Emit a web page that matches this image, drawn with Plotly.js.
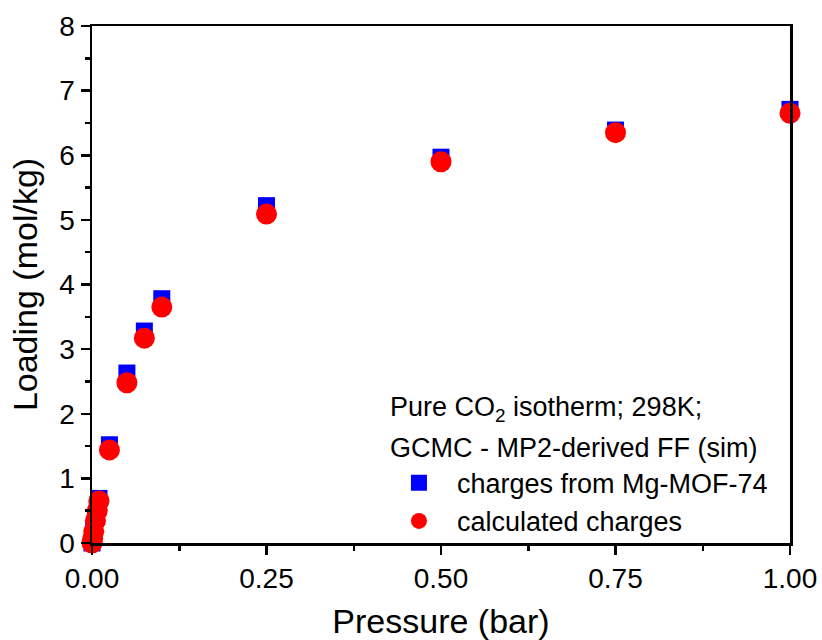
<!DOCTYPE html>
<html>
<head>
<meta charset="utf-8">
<script src="https://cdn.plot.ly/plotly-3.0.1.min.js"></script>
<style>html,body{margin:0;padding:0;background:#fff;} #chart{width:822px;height:640px;}</style>
</head>
<body>
<div id="chart"></div>
<script>
var pressure = [0, 0.001, 0.0025, 0.005, 0.0075, 0.01, 0.025, 0.05, 0.075, 0.1, 0.25, 0.5, 0.75, 1.0];
var loadingMgCharges = [0, 0.08, 0.2, 0.38, 0.54, 0.69, 1.52, 2.63, 3.28, 3.78, 5.22, 5.97, 6.39, 6.71];
var loadingCalcCharges = [0, 0.07, 0.18, 0.35, 0.5, 0.65, 1.44, 2.48, 3.17, 3.65, 5.09, 5.9, 6.35, 6.65];
var xTicks = [0, 0.25, 0.5, 0.75, 1.0];
var yTicks = [0, 1, 2, 3, 4, 5, 6, 7, 8];

var font = 'Liberation Sans, Arial, sans-serif';
var traces = [
  {x: pressure, y: loadingMgCharges, mode: 'markers', type: 'scatter', name: 'charges from Mg-MOF-74',
   marker: {symbol: 'square', size: 17, color: '#0000ff'}, cliponaxis: false},
  {x: pressure, y: loadingCalcCharges, mode: 'markers', type: 'scatter', name: 'calculated charges',
   marker: {symbol: 'circle', size: 21, color: '#ff0000'}, cliponaxis: false}
];
var axisCommon = {
  showgrid: false, zeroline: false, showline: true, linecolor: '#000', linewidth: 2.5,
  mirror: true, ticks: 'outside', ticklen: 9, tickwidth: 2.5, tickcolor: '#000',
  tickfont: {family: font, size: 28, color: '#000'}
};
var layout = {
  width: 822, height: 640,
  margin: {l: 92, r: 32, t: 26, b: 97},
  paper_bgcolor: '#fff', plot_bgcolor: '#fff',
  showlegend: true,
  legend: {x: 0.414, y: 0.163, xanchor: 'left', yanchor: 'top', bgcolor: 'rgba(0,0,0,0)',
           font: {family: font, size: 27, color: '#000'}, tracegroupgap: 0, itemwidth: 66},
  xaxis: Object.assign({}, axisCommon, {
    range: [0, 1.0], tickvals: xTicks, tickformat: '.2f',
    minor: {ticks: 'outside', ticklen: 5, tickwidth: 2.5, tickcolor: '#000', dtick: 0.125, tick0: 0},
    title: {text: 'Pressure (bar)', font: {family: font, size: 34, color: '#000'}, standoff: 19}
  }),
  yaxis: Object.assign({}, axisCommon, {
    range: [0, 8], tickvals: yTicks,
    minor: {ticks: 'outside', ticklen: 5, tickwidth: 2.5, tickcolor: '#000', dtick: 0.5, tick0: 0},
    title: {text: 'Loading (mol/kg)', font: {family: font, size: 34, color: '#000'}, standoff: 12}
  }),
  annotations: [
    {xref: 'paper', yref: 'paper', x: 0.4245, y: 0.26, xanchor: 'left', yanchor: 'middle', showarrow: false,
     text: 'Pure CO<sub>2</sub> isotherm; 298K;', font: {family: font, size: 27, color: '#000'}},
    {xref: 'paper', yref: 'paper', x: 0.4245, y: 0.184, xanchor: 'left', yanchor: 'middle', showarrow: false,
     text: 'GCMC - MP2-derived FF (sim)', font: {family: font, size: 27, color: '#000'}}
  ]
};
Plotly.newPlot('chart', traces, layout, {displayModeBar: false, staticPlot: true});
</script>
</body>
</html>
